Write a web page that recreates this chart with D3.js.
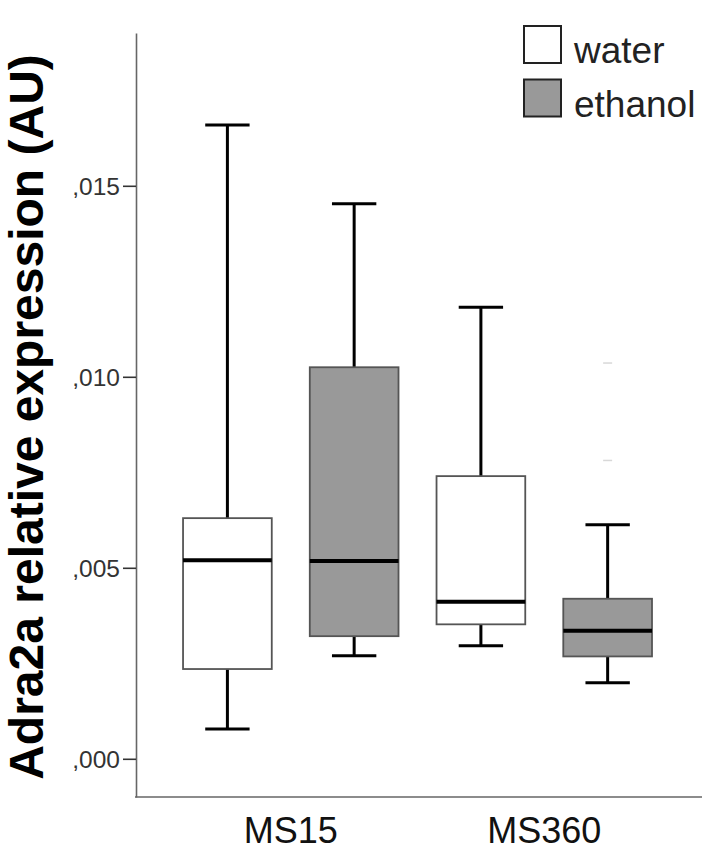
<!DOCTYPE html>
<html><head><meta charset="utf-8">
<script src="https://cdn.jsdelivr.net/npm/d3@7"></script>
<style>body{margin:0;background:#fff}svg{display:block}</style>
</head><body><svg id="c" width="715" height="851"></svg>
<script>
// ---- data ----
const categories = ["MS15", "MS360"];
const seriesNames = ["water", "ethanol"];
// five-number summaries per category: [min, q1, median, q3, max]
const waterStats = [[0.00078, 0.00235, 0.00520, 0.00630, 0.01659],
                    [0.00296, 0.00352, 0.00411, 0.00740, 0.01182]];
const ethanolStats = [[0.00270, 0.00321, 0.00518, 0.01025, 0.01453],
                      [0.00199, 0.00268, 0.00335, 0.00419, 0.00613]];
const waterOutliers = [[], []];
const ethanolOutliers = [[], [0.00781, 0.01036]];
const yTicks = [0, 0.005, 0.010, 0.015];
const yLabel = "Adra2a relative expression (AU)";

// ---- styles ----
const fills = {water: "#ffffff", ethanol: "#999999"};
const font = "'Liberation Sans', Arial, sans-serif";

const svg = d3.select("#c");
const frame = {left: 136, right: 702, top: 33, bottom: 797};

const y = d3.scaleLinear().domain([-0.001, 0.019]).range([frame.bottom, frame.top]);
const x = d3.scaleBand().domain(categories).range([frame.left, frame.right])
  .paddingInner(0).paddingOuter(0.1164).align(0.475);
const xs = d3.scaleBand().domain(seriesNames).range([0, x.bandwidth()]);

const rows = [];
categories.forEach((c, i) => {
  rows.push({cat: c, s: "water", st: waterStats[i], out: waterOutliers[i]});
  rows.push({cat: c, s: "ethanol", st: ethanolStats[i], out: ethanolOutliers[i]});
});

// axes
const yAxis = d3.axisLeft(y).tickValues(yTicks).tickSize(13).tickSizeOuter(0).tickPadding(3)
  .tickFormat(d => d3.format(".3f")(d).replace(/^0\./, ","));
const gy = svg.append("g").attr("transform", `translate(${frame.left},0)`).call(yAxis);
gy.select(".domain").attr("stroke", "#666").attr("stroke-width", 1.6);
gy.selectAll(".tick line").attr("stroke", "#333").attr("stroke-width", 1.6);
gy.selectAll(".tick text").attr("font-family", font).attr("font-size", 24.5).attr("fill", "#333").attr("dy", "0.36em");

const xAxis = d3.axisBottom(x).tickSize(0).tickPadding(20);
const gx = svg.append("g").attr("transform", `translate(0,${frame.bottom})`).call(xAxis);
gx.select(".domain").remove();
gx.append("line").attr("x1", frame.left - 1).attr("x2", frame.right).attr("y1", 0).attr("y2", 0)
  .attr("stroke", "#666").attr("stroke-width", 1.6);
gx.selectAll(".tick text").attr("font-family", font).attr("font-size", 36).attr("fill", "#111").attr("dy", "0.71em");

// y title
svg.append("text")
  .attr("transform", `translate(43,${(y(-0.001) + y(0.019)) / 2 + 2}) rotate(-90)`)
  .attr("text-anchor", "middle").attr("font-family", font).attr("font-weight", "bold")
  .attr("font-size", 48).attr("fill", "#000").text(yLabel);

// boxes
const bw = xs.bandwidth() * 0.70;
const cw = xs.bandwidth() * 0.35;
const g = svg.append("g");
rows.forEach(r => {
  const cx = x(r.cat) + xs(r.s) + xs.bandwidth() / 2;
  const [mn, q1, md, q3, mx] = r.st;
  const gg = g.append("g");
  gg.append("line").attr("x1", cx).attr("x2", cx).attr("y1", y(q3)).attr("y2", y(mx))
    .attr("stroke", "#000").attr("stroke-width", 3);
  gg.append("line").attr("x1", cx).attr("x2", cx).attr("y1", y(q1)).attr("y2", y(mn))
    .attr("stroke", "#000").attr("stroke-width", 3);
  [mn, mx].forEach(v => gg.append("line").attr("x1", cx - cw / 2).attr("x2", cx + cw / 2)
    .attr("y1", y(v)).attr("y2", y(v)).attr("stroke", "#000").attr("stroke-width", 3));
  gg.append("rect").attr("x", cx - bw / 2).attr("width", bw).attr("y", y(q3)).attr("height", y(q1) - y(q3))
    .attr("fill", fills[r.s]).attr("stroke", "#555").attr("stroke-width", 1.8);
  gg.append("line").attr("x1", cx - bw / 2).attr("x2", cx + bw / 2).attr("y1", y(md)).attr("y2", y(md))
    .attr("stroke", "#000").attr("stroke-width", 4);
  r.out.forEach(v => gg.append("line").attr("x1", cx - 4.5).attr("x2", cx + 4.5).attr("y1", y(v)).attr("y2", y(v))
    .attr("stroke", "#d8d8d8").attr("stroke-width", 1.5));
});

// legend
const lg = svg.append("g").attr("transform", "translate(523,25)");
seriesNames.forEach((s, i) => {
  const row = lg.append("g").attr("transform", `translate(0,${i * 53.5})`);
  row.append("rect").attr("x", 1).attr("y", 1).attr("width", 37).attr("height", 37)
    .attr("fill", fills[s]).attr("stroke", "#222").attr("stroke-width", 2);
  row.append("text").attr("x", 51).attr("y", 38).attr("font-family", font).attr("font-size", 37)
    .attr("fill", "#222").text(s);
});
</script>
</body></html>
